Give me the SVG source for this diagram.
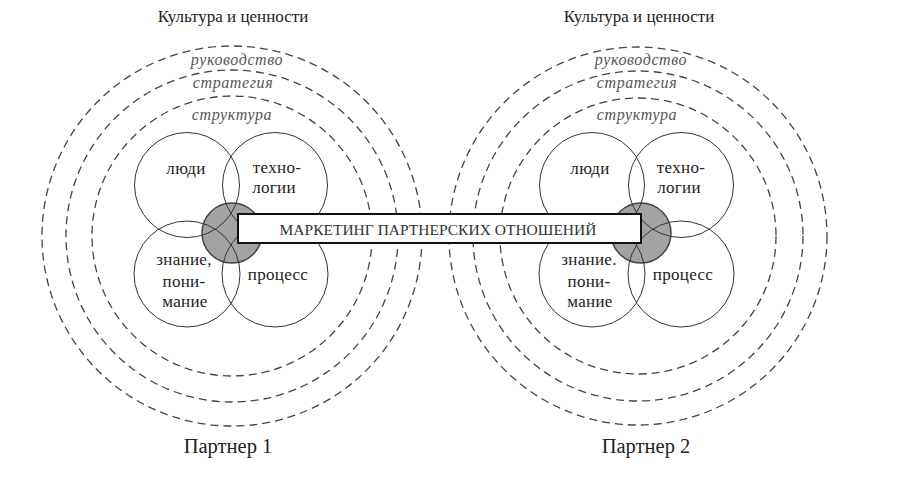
<svg xmlns="http://www.w3.org/2000/svg" width="905" height="483" viewBox="0 0 905 483">
<style>
.bg{fill:#fff}
.dash{fill:none;stroke:#444;stroke-width:1.3;stroke-dasharray:8 5}
.core{fill:#a3a3a3;stroke:#444;stroke-width:1.5}
.ring{fill:none;stroke:#333;stroke-width:1}
.t{font-family:"Liberation Serif","DejaVu Serif",serif;fill:#222;text-anchor:middle}
.h{font-size:17px}
.n{font-size:17px;letter-spacing:0.3px}
.i{font-size:16px;font-style:italic;fill:#555;letter-spacing:0.6px}
.p{font-size:20.5px}
.box{fill:#fff;stroke:#111;stroke-width:2}
.m{font-size:15.5px;fill:#333}
</style>
<rect class="bg" x="0" y="0" width="905" height="483"/>

<g id="partner1">
  <g id="p1-layers">
    <circle class="dash" cx="232" cy="236" r="190"/>
    <circle class="dash" cx="232" cy="236" r="166"/>
    <circle class="dash" cx="232" cy="236" r="140"/>
  </g>
  <text class="t h" x="233" y="22">Культура и ценности</text>
  <text class="t i" x="237" y="65">руководство</text>
  <text class="t i" x="233" y="88">стратегия</text>
  <text class="t i" x="232" y="120">структура</text>
  <circle id="p1-core" class="core" cx="232" cy="233" r="30"/>
  <g id="p1-people"><circle class="ring" cx="187" cy="185" r="52.5"/><text class="t n" x="186" y="174">люди</text></g>
  <g id="p1-tech"><circle class="ring" cx="275" cy="185" r="52.5"/><text class="t n" x="277" y="173">техно-</text><text class="t n" x="274" y="193">логии</text></g>
  <g id="p1-knowledge"><circle class="ring" cx="187" cy="274" r="53"/><text class="t n" x="184" y="265">знание,</text><text class="t n" x="184" y="287">пони-</text><text class="t n" x="185" y="307">мание</text></g>
  <g id="p1-process"><circle class="ring" cx="275" cy="274" r="53"/><text class="t n" x="278" y="280">процесс</text></g>
  <text class="t p" x="228" y="453">Партнер 1</text>
</g>

<g id="partner2">
  <g id="p2-layers">
    <circle class="dash" cx="638" cy="236" r="189"/>
    <circle class="dash" cx="638" cy="236" r="165"/>
    <circle class="dash" cx="638" cy="236" r="138"/>
  </g>
  <text class="t h" x="639" y="22">Культура и ценности</text>
  <text class="t i" x="641" y="65">руководство</text>
  <text class="t i" x="637" y="88">стратегия</text>
  <text class="t i" x="637" y="120">структура</text>
  <circle id="p2-core" class="core" cx="641" cy="233" r="30"/>
  <g id="p2-people"><circle class="ring" cx="592" cy="185" r="52.5"/><text class="t n" x="590" y="174">люди</text></g>
  <g id="p2-tech"><circle class="ring" cx="681" cy="185" r="52.5"/><text class="t n" x="681" y="173">техно-</text><text class="t n" x="679" y="193">логии</text></g>
  <g id="p2-knowledge"><circle class="ring" cx="592" cy="274" r="53"/><text class="t n" x="589" y="265">знание.</text><text class="t n" x="589" y="287">пони-</text><text class="t n" x="590" y="307">мание</text></g>
  <g id="p2-process"><circle class="ring" cx="681" cy="274" r="53"/><text class="t n" x="683" y="280">процесс</text></g>
  <text class="t p" x="646" y="453">Партнер 2</text>
</g>

<g id="marketing">
  <rect class="box" x="238" y="214" width="403" height="29"/>
  <text class="t m" x="438" y="235">МАРКЕТИНГ ПАРТНЕРСКИХ ОТНОШЕНИЙ</text>
</g>
</svg>
